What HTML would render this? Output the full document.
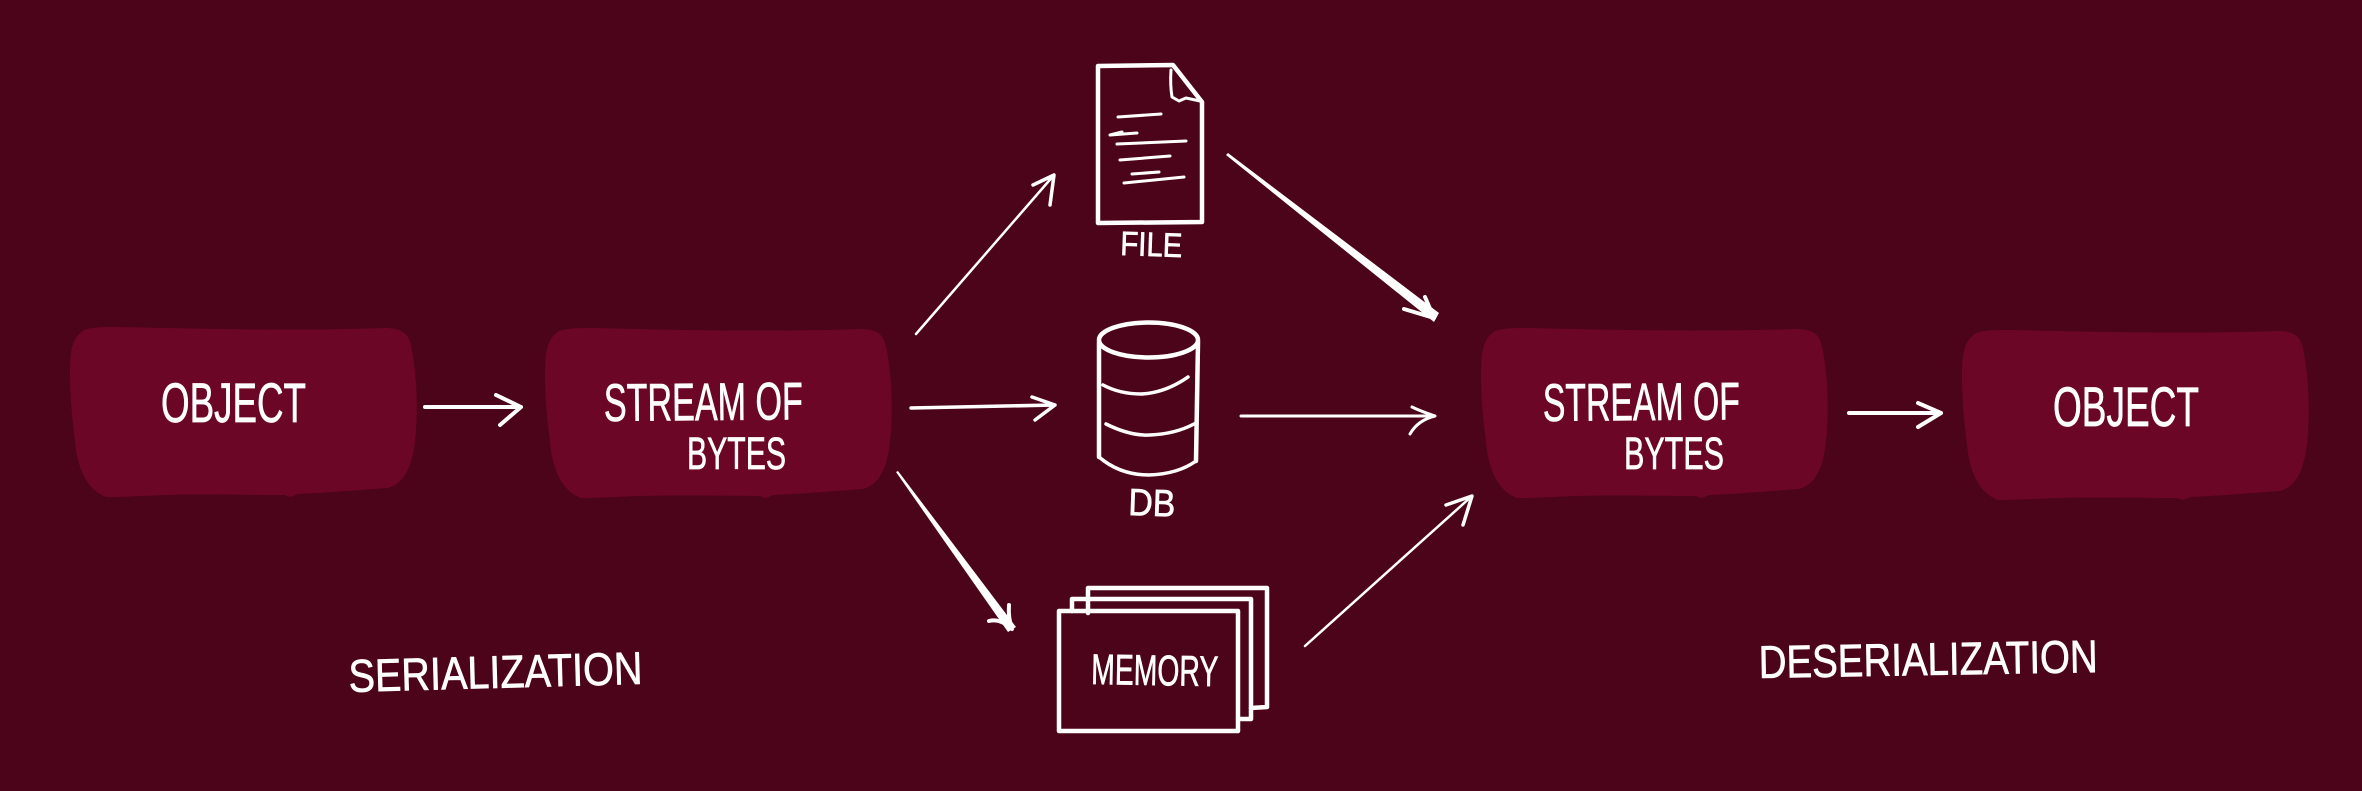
<!DOCTYPE html>
<html>
<head>
<meta charset="utf-8">
<style>
html,body{margin:0;padding:0;background:#4b0419;width:2362px;height:791px;overflow:hidden}
svg{display:block}
text{font-family:"Liberation Sans Narrow","Liberation Sans",sans-serif;fill:#fff;stroke:#fff;stroke-width:.7}
.l{fill:none;stroke:#fff;stroke-linecap:round;stroke-linejoin:round}
</style>
</head>
<body>
<svg width="2362" height="791" viewBox="0 0 2362 791" xmlns="http://www.w3.org/2000/svg">
<rect width="2362" height="791" fill="#4b0419"/>
<defs>
<path id="b" fill="#6c0626" d="M120 327 C200 329 300 331 385 328 C400 328 408 332 411 345 C416 370 418 400 416 430 C414 455 410 482 388 488 C360 490 325 493 298 494 L291 497 L284 495 C250 495 200 494 165 495 C140 496 125 497 106 497 C90 491 80 475 76 450 C73 425 70 400 70 375 C70 350 72 338 84 330 C92 327 105 327 120 327 Z"/>
</defs>
<use href="#b"/>
<use href="#b" x="475" y="1"/>
<use href="#b" x="1411" y="1"/>
<use href="#b" x="1892" y="3"/>

<!-- Box labels -->
<text x="161" y="422" font-size="56" textLength="145" lengthAdjust="spacingAndGlyphs">OBJECT</text>
<text x="604" y="421" font-size="53" textLength="199" lengthAdjust="spacingAndGlyphs" transform="rotate(-0.5 604 421)">STREAM OF</text>
<text x="687" y="469" font-size="45" textLength="99" lengthAdjust="spacingAndGlyphs">BYTES</text>
<text x="1543" y="421" font-size="53" textLength="197" lengthAdjust="spacingAndGlyphs" transform="rotate(-0.5 1543 421)">STREAM OF</text>
<text x="1624" y="469" font-size="45" textLength="100" lengthAdjust="spacingAndGlyphs">BYTES</text>
<text x="2053" y="426" font-size="56" textLength="146" lengthAdjust="spacingAndGlyphs">OBJECT</text>

<!-- Section labels -->
<text x="349" y="692" font-size="46" textLength="294" lengthAdjust="spacingAndGlyphs" transform="rotate(-1.6 349 692)">SERIALIZATION</text>
<text x="1759" y="678" font-size="46" textLength="339" lengthAdjust="spacingAndGlyphs" transform="rotate(-1 1759 678)">DESERIALIZATION</text>

<!-- Icon labels -->
<text x="1120" y="255" font-size="34" textLength="62" lengthAdjust="spacingAndGlyphs" transform="rotate(2 1120 255)">FILE</text>
<text x="1128" y="515" font-size="38" textLength="47" lengthAdjust="spacingAndGlyphs" transform="rotate(2 1128 515)">DB</text>
<text x="1091" y="684" font-size="43" textLength="127" lengthAdjust="spacingAndGlyphs" transform="rotate(1 1091 684)">MEMORY</text>

<!-- Horizontal arrows -->
<path class="l" stroke-width="4" d="M425 407 L521 407 M496 395 L521 407 L500 425"/>
<path class="l" stroke-width="3.5" d="M911 408 L1055 405 M1032 397 L1055 405 L1035 420"/>
<path class="l" stroke-width="3" d="M1241 416 L1435 416 M1412 407 Q1420 411 1435 416 Q1418 420 1410 434"/>
<path class="l" stroke-width="4" d="M1849 413 L1941 413 M1918 403 L1941 413 L1918 427"/>

<!-- Diagonal arrows -->
<path class="l" stroke-width="2.5" d="M916 334 L1054 175"/>
<path class="l" stroke-width="3.5" d="M1033 185 L1054 175 L1050 205"/>
<polygon fill="#fff" points="1226,155 1228,153 1439,313 1434,322"/>
<path class="l" stroke-width="4" d="M1404 309 L1434 318 L1425 297"/>
<polygon fill="#fff" points="896,472 898,471 1016,627 1008,632"/>
<path class="l" stroke-width="4" d="M989 621 Q1000 618 1012 629 Q1008 618 1009 605"/>
<path class="l" stroke-width="2.5" d="M1305 646 L1472 496"/>
<path class="l" stroke-width="3.5" d="M1446 505 L1472 496 L1463 525"/>

<!-- File icon -->
<path class="l" stroke-width="4.5" d="M1098 66 L1173 65 L1202 102 L1202 222 L1098 223 Z"/>
<path class="l" stroke-width="3" d="M1171 70 Q1170 85 1172 97 L1179 101 L1186 98 L1200 101"/>
<path class="l" stroke-width="3" d="M1118 117 L1161 114 M1110 135 L1122 132 M1110 135 L1137 133 M1117 144 L1186 141 M1120 160 L1170 156 M1132 174 L1159 172 M1124 183 L1184 177"/>

<!-- DB icon -->
<g class="l" stroke-width="4.5">
<ellipse cx="1148.5" cy="340" rx="49.5" ry="17.5"/>
<path d="M1099 342 L1099 457 M1198 342 L1196 461"/>
<path stroke-width="3.5" d="M1099 457 Q1120 475 1149 475 Q1178 474 1196 461"/>
<path stroke-width="3.5" d="M1103 385 Q1120 394 1141 394 Q1165 393 1188 377 M1106 424 Q1130 436 1150 435 Q1175 434 1194 424"/>
</g>

<!-- Memory icon -->
<g class="l" stroke-width="4.5">
<path d="M1059 611 L1238 611 L1238 731 L1059 731 Z"/>
<path d="M1072 611 L1072 599 L1251 599 L1251 719 L1238 719"/>
<path d="M1088 613 L1088 588 L1267 588 L1267 707 L1251 708"/>
</g>
</svg>
</body>
</html>
